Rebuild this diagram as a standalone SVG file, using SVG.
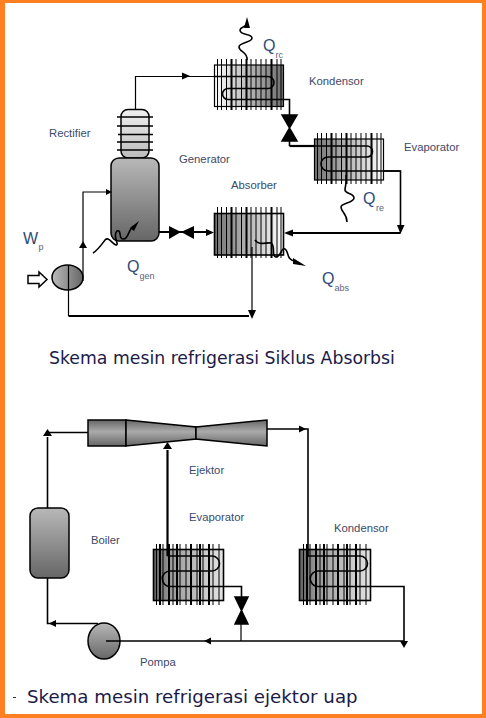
<svg xmlns="http://www.w3.org/2000/svg" xmlns:xlink="http://www.w3.org/1999/xlink" width="486" height="718" viewBox="0 0 486 718">
<style>
.l{font-family:"Liberation Sans",Arial,sans-serif;font-size:11.300px;fill:#3d4a68}
.q{font-family:"Liberation Sans",Arial,sans-serif;font-size:16px;fill:#2f4a78}
.s{font-family:"Liberation Sans",Arial,sans-serif;font-size:9px;fill:#5a6478}
.t{font-family:"DejaVu Sans",Verdana,sans-serif;font-size:17.300px;fill:#1b1b48}
.w{fill:none;stroke:#000;stroke-width:1.2}
.m{fill:none;stroke:#000;stroke-width:1.6}
.b{fill:none;stroke:#000;stroke-width:2.2}
.o{stroke:#000;stroke-width:1.5}
.k{fill:#000}
</style>
<defs>
<linearGradient id="lr" x1="0" x2="1" y1="0" y2="0"><stop offset="0" stop-color="#fff"/><stop offset=".12" stop-color="#eee"/><stop offset="1" stop-color="#707070"/></linearGradient>
<linearGradient id="rl" x1="0" x2="1" y1="0" y2="0"><stop offset="0" stop-color="#707070"/><stop offset=".85" stop-color="#e8e8e8"/><stop offset="1" stop-color="#fff"/></linearGradient>
<linearGradient id="rd" x1="0" x2="1" y1="0" y2="0"><stop offset="0" stop-color="#606060"/><stop offset=".25" stop-color="#999"/><stop offset="1" stop-color="#e4e4e4"/></linearGradient>
<linearGradient id="v1" x1="0" x2="0" y1="0" y2="1"><stop offset="0" stop-color="#b8b8b8"/><stop offset="1" stop-color="#666"/></linearGradient>
<linearGradient id="v2" x1="0" x2="0" y1="0" y2="1"><stop offset="0" stop-color="#f0f0f0"/><stop offset="1" stop-color="#bbb"/></linearGradient>
<linearGradient id="v3" x1="0" x2="0" y1="0" y2="1"><stop offset="0" stop-color="#666"/><stop offset=".45" stop-color="#aaa"/><stop offset="1" stop-color="#666"/></linearGradient>
<linearGradient id="h1" x1="0" x2="1" y1="0" y2="0"><stop offset="0" stop-color="#bbb"/><stop offset="1" stop-color="#666"/></linearGradient>
<g id="ticks1" stroke="#000" stroke-width="1">
<path d="M3.500 -6V45M7.500 -6V45M12.500 -6V45M22 -6V45M27.500 -6V45M37 -6V45M42 -6V45M47 -6V45M52 -6V45M63 -6V45M67 -6V45"/>
<path stroke-width="2" d="M17.500 -6V45M32.500 -6V45M57.500 -6V45"/>
</g>
<g id="ticks2" stroke="#000" stroke-width="1">
<path d="M3.500 -5V56M10 -5V56M20 -5V56M27 -5V56M33 -5V56M44 -5V56M50 -5V56M60 -5V56M66 -5V56"/>
<path stroke-width="2" d="M7 -5V56M16 -5V56M24 -5V56M38 -5V56M47 -5V56M56 -5V56"/>
</g>
</defs>
<rect x="0" y="0" width="486" height="718" fill="#ff8020"/>
<rect x="5" y="3" width="477" height="711" fill="#fff"/>

<g id="kondensor1">
<rect x="214" y="65" width="69" height="41.500" fill="url(#lr)"/>
<use xlink:href="#ticks1" href="#ticks1" transform="translate(214 65)"/>
<rect x="214.500" y="65" width="69" height="41.500" class="w"/>
</g>
<g id="evaporator1">
<rect x="314" y="139" width="69" height="41" fill="url(#rl)"/>
<use xlink:href="#ticks1" href="#ticks1" transform="translate(314 139)"/>
<rect x="314.500" y="139" width="69" height="41" class="w"/>
</g>
<g id="absorber">
<rect x="214" y="213" width="69" height="42" fill="url(#rl)"/>
<use xlink:href="#ticks1" href="#ticks1" transform="translate(214 213)"/>
<rect x="214.500" y="213.500" width="69" height="41.500" class="m"/>
</g>
<g id="rectifier">
<rect x="121" y="109.500" width="28" height="48.500" rx="7" fill="url(#v2)" class="o"/>
<path d="M117 117H153M117 126H153M118 134.500H153M117 142H153M117 150H153" class="m"/>
</g>
<g id="generator">
<rect x="111" y="158" width="48" height="83" rx="8" fill="url(#v1)" class="o"/>
</g>
<g id="pump1">
<ellipse cx="67.500" cy="277.500" rx="15.500" ry="12.500" fill="url(#h1)" class="o"/>
</g>

<g id="connectors1">
<path d="M135.500 109V76.500H214" class="w" stroke="#333"/>
<path class="k" d="M182 72.500L190 76 182 79.500Z"/>
<path d="M214 76.500H268a6 6 0 0 1 6 6a6 6 0 0 1 -6 6H228a5.500 5.500 0 0 0 0 11H289.500V115" class="m"/>
<path class="k o" stroke-width="1" d="M282 115H297L282 141H297Z"/>
<path d="M289.500 141V146" class="m"/>
<path d="M289.500 146H314" class="b"/>
<path d="M314 146H367a5.500 5.500 0 0 1 0 11H328a7 7 0 0 0 0 14H400.500" class="m"/>
<path d="M383 171H400.500V230" class="m"/>
<path class="k" d="M397 225H404.500L400.500 234Z"/>
<path d="M400.500 233H290" class="b"/>
<path class="k" d="M284 233L293 229.500V236.500Z"/>
<path d="M252 247V312" class="w"/>
<path class="k" d="M248 310H256L252 319Z"/>
<path d="M68.500 316H249" class="b"/>
<path d="M68.500 265V316" class="w"/>
<path d="M83 281V192H107" class="w"/>
<path class="k" d="M79 248L83 241 87 248ZM106 189L112 192 106 195Z"/>
<path d="M159 232H208" class="b"/>
<path class="k" d="M169 226L181 232 169 239ZM194 226L181 232 194 239ZM206 229L214 232.500 206 236Z"/>
</g>
<g id="heat1">
<path d="M247 60C248 52 239 52 239 47C239 42 252 43 252 38C252 33 240 36 240 30C240 27 247 27 247 23" class="m"/>
<path class="k" d="M244 28L247 17 250 28Z"/>
<path d="M347 222C347 213 341 212 341 207C341 203 354 203 354 198C354 193 345 194 345 190C345 186 347 184 346 175" class="m"/>
<path d="M93 253C98 250 102 244 105 240C109 236 112 244 116 245C120 245 112 236 117 231C122 229 118 240 124 239C129 238 128 229 134 226" class="m"/>
<path class="k" d="M130 228L139 221 134 231Z"/>
<path d="M255 240C259 246 266 242 271 243C276 246 271 257 276 257C282 256 281 247 285 249C289 251 286 260 295 261" class="m"/>
<path class="k" d="M293 258L306 266 293 264Z"/>
</g>
<g id="labels1">
<text class="l" x="49" y="137">Rectifier</text>
<text class="l" x="179" y="163">Generator</text>
<text class="l" x="231" y="189">Absorber</text>
<text class="l" x="309" y="85">Kondensor</text>
<text class="l" x="404" y="151">Evaporator</text>
<text class="q" x="263" y="51">Q</text><text class="s" x="275.500" y="58">rc</text>
<text class="q" x="363" y="204">Q</text><text class="s" x="376" y="211">re</text>
<text class="q" x="127" y="272">Q</text><text class="s" x="139.500" y="279">gen</text>
<text class="q" x="322" y="284">Q</text><text class="s" x="334.500" y="291">abs</text>
<text class="q" x="23" y="244">W</text><text class="s" x="38.500" y="250">p</text>
</g>
<path id="inputArrow" d="M28 275.500H39V272L47 279.500 39 287V283.500H28Z" fill="#fff" stroke="#000" stroke-width="1.500"/>
<text class="t" x="49" y="364">Skema mesin refrigerasi Siklus Absorbsi</text>

<g id="ejektor">
<rect x="88" y="420" width="38" height="26" fill="url(#v3)" class="o"/>
<path d="M126 420L196 427V439L126 446Z" fill="url(#v3)" class="o"/>
<path d="M196 427L267 420V446L196 439Z" fill="url(#v3)" class="o"/>
</g>
<g id="boiler">
<rect x="30" y="508" width="39" height="70" rx="8" fill="url(#v1)" class="o"/>
</g>
<g id="evaporator2">
<rect x="153" y="549" width="70" height="51" fill="url(#rd)"/>
<use xlink:href="#ticks2" href="#ticks2" transform="translate(153 549)"/>
<rect x="153.500" y="549.500" width="70" height="51" class="m"/>
</g>
<g id="kondensor2">
<rect x="299" y="549" width="71" height="51" fill="url(#rd)"/>
<use xlink:href="#ticks2" href="#ticks2" transform="translate(300 549)"/>
<rect x="299.500" y="549.500" width="71" height="51" class="m"/>
</g>
<g id="pump2">
<ellipse cx="104" cy="641" rx="16" ry="18" fill="url(#v1)" class="o"/>
</g>
<g id="connectors2">
<path d="M47.500 508V437" class="m"/>
<path d="M47.500 432.500H88" class="m"/>
<path class="k" d="M43 436L47.500 429 52 436Z"/>
<path d="M47.500 578V623.500H98" class="m"/>
<path class="k" d="M49 623.500L56 620V627Z"/>
<path d="M267 429H308V556" class="m"/>
<path class="k" d="M299 425.500L306 429 299 432.500Z"/>
<path d="M167.500 556V450" class="b"/>
<path class="k" d="M163 449L167.500 442 172 449Z"/>
<path d="M167.500 556H212a7.500 7.500 0 0 1 0 15H170a7.500 7.500 0 0 0 0 15.500H241.500V597" class="m"/>
<path class="k o" stroke-width="1" d="M235 597H248L235 624H248Z"/>
<path d="M241 624V641" class="w"/>
<path d="M308 556H360a7.500 7.500 0 0 1 0 15H318a7.500 7.500 0 0 0 0 15.500H404V642" class="m"/>
<path class="k" d="M400 641H408L404 648Z"/>
<path d="M106 641H404" class="m"/>
<path class="k" d="M204 641L211 637.500V644.500Z"/>
</g>
<g id="labels2">
<text class="l" x="189" y="474">Ejektor</text>
<text class="l" x="189" y="521">Evaporator</text>
<text class="l" x="91" y="544">Boiler</text>
<text class="l" x="334" y="532">Kondensor</text>
<text class="l" x="140" y="666">Pompa</text>
</g>
<rect x="13" y="697" width="3" height="1" fill="#333"/>
<text class="t" x="27" y="703" style="font-size:18.200px">Skema mesin refrigerasi ejektor uap</text>
</svg>
